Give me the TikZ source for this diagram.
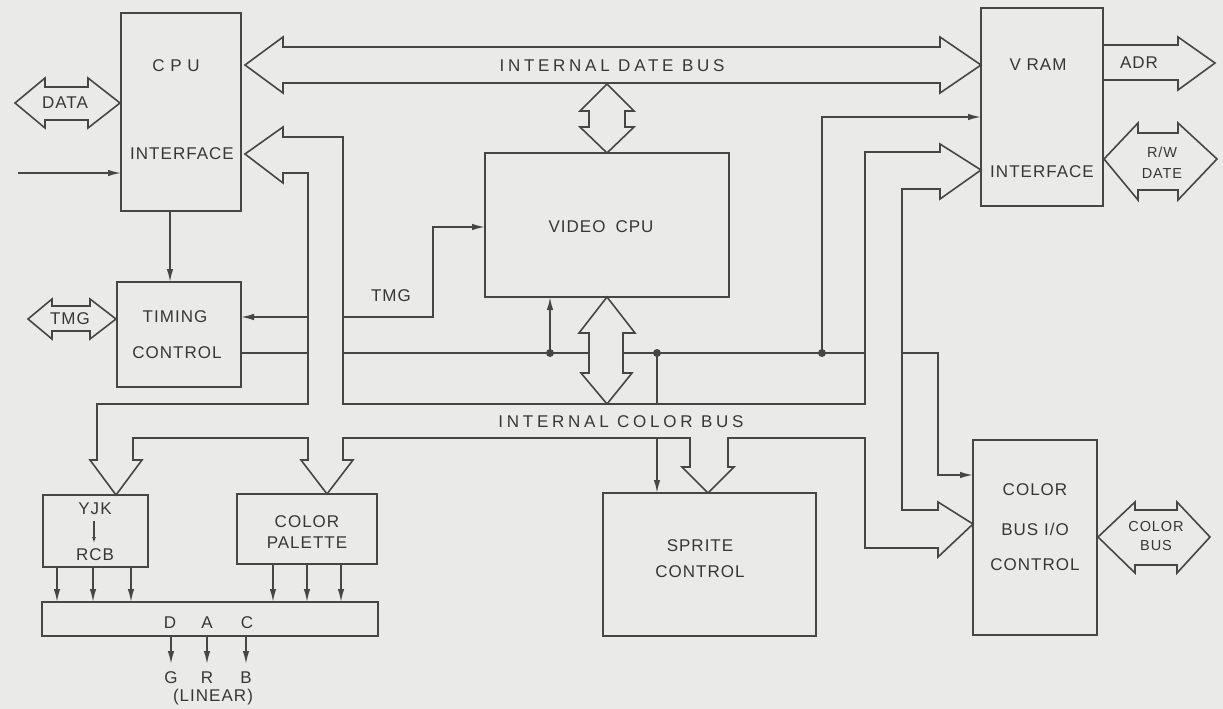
\documentclass[tikz,border=0pt]{standalone}
\usepackage{fontspec}
\setmainfont{Liberation Sans}[LetterSpace=6]
\newfontfamily\wide{Liberation Sans}[LetterSpace=22]
\usetikzlibrary{arrows.meta}
\definecolor{bg}{RGB}{234,234,232}
\definecolor{ink}{RGB}{70,70,70}
\definecolor{txt}{RGB}{55,55,55}
\begin{document}
\begin{tikzpicture}[x=1pt,y=-1pt,
  wire/.style={draw=ink,line width=1.6pt,line join=miter},
  arr/.style={wire,-{Latex[length=13pt,width=6.5pt]}},
  box/.style={draw=ink,line width=1.7pt,inner sep=0pt,outer sep=0pt},
  lbl/.style={text=txt,font=\fontsize{17}{19}\selectfont,inner sep=0pt},
  sm/.style={text=txt,font=\fontsize{14.5}{16}\selectfont,inner sep=0pt},
  buslbl/.style={text=txt,font=\wide\fontsize{17}{19}\selectfont,inner sep=0pt},
  dot/.style={circle,fill=ink,inner sep=0pt,minimum size=8pt},
]
\fill[bg] (0,0) rectangle (1223,709);
\useasboundingbox (0,0) rectangle (1223,709);

% ---------- boxes ----------
\node[box,minimum width=120pt,minimum height=198pt] (cpu)  at (181,112) {};
\node[box,minimum width=122pt,minimum height=198pt] (vram) at (1042,107) {};
\node[box,minimum width=244pt,minimum height=144pt] (vcpu) at (607,225) {};
\node[box,minimum width=124pt,minimum height=105pt] (tim)  at (179,334.5) {};
\node[box,minimum width=105pt,minimum height=72pt]  (yjk)  at (95.5,531) {};
\node[box,minimum width=140pt,minimum height=70pt]  (pal)  at (307,529) {};
\node[box,minimum width=336pt,minimum height=34pt]  (dac)  at (210,619) {};
\node[box,minimum width=213pt,minimum height=143pt] (spr)  at (709.5,564.5) {};
\node[box,minimum width=124pt,minimum height=195pt] (cbio) at (1035,537.5) {};

% ---------- box texts ----------
\node[lbl] (tcpu)  at (176,66)  {C P U};
\node[lbl] (tcpui) at (182,154) {INTERFACE};
\node[lbl] (tvr)   at (1038,65) {V RAM};
\node[lbl] (tvri)  at (1042,172) {INTERFACE};
\node[lbl] (tvc)   at (601,227) {VIDEO\hspace{10pt}CPU};
\node[lbl] (tti1)  at (175,317) {TIMING};
\node[lbl] (tti2)  at (177,353) {CONTROL};
\node[lbl] (tyj1)  at (95,509)  {YJK};
\node[lbl] (tyj2)  at (95,555)  {RCB};
\node[lbl] (tpa1)  at (307,522) {COLOR};
\node[lbl] (tpa2)  at (307,543) {PALETTE};
\node[lbl] (tdd)   at (170,623) {D};
\node[lbl] (tda)   at (207,623) {A};
\node[lbl] (tdc)   at (247,623) {C};
\node[lbl] (tsp1)  at (700,546) {SPRITE};
\node[lbl] (tsp2)  at (700,572) {CONTROL};
\node[lbl] (tcb1)  at (1035,490) {COLOR};
\node[lbl] (tcb2)  at (1035,529) {BUS I/O};
\node[lbl] (tcb3)  at (1035,565) {CONTROL};

% ---------- hollow bus network ----------
\draw[wire] (245,154) -- (283,127) -- (283,137) -- (343,137) -- (343,404)
  -- (865,404) -- (865,152) -- (940,152) -- (940,144) -- (981,170) -- (940,199)
  -- (940,189) -- (902,189) -- (902,510) -- (938,510) -- (938,502) -- (973,524)
  -- (938,557) -- (938,548) -- (865,548) -- (865,438) -- (728,438) -- (728,467)
  -- (734,467) -- (708,493) -- (682,467) -- (690,467) -- (690,438) -- (343,438)
  -- (343,460) -- (353,460) -- (327,494) -- (301,460) -- (308,460) -- (308,438)
  -- (133,438) -- (133,460) -- (142,460) -- (116,495) -- (90,460) -- (97,460)
  -- (97,404) -- (308,404) -- (308,173) -- (283,173) -- (283,183) -- cycle;
\node[buslbl] (tcbus) at (621,422) {INTERNAL COLOR BUS};

% internal date bus
\draw[wire] (245,65) -- (283,37) -- (283,47) -- (940,47) -- (940,37) -- (981,65)
  -- (940,93) -- (940,83) -- (283,83) -- (283,93) -- cycle;
\node[buslbl] (tdbus) at (612,66) {INTERNAL DATE BUS};

% date bus <-> video cpu
\draw[wire] (607,84) -- (634,111) -- (625,111) -- (625,127) -- (634,127) -- (607,153)
  -- (580,127) -- (589,127) -- (589,111) -- (580,111) -- cycle;

% video cpu <-> color bus
\draw[wire] (607,297) -- (635,333) -- (623,333) -- (623,373) -- (632,373) -- (607,404)
  -- (581,373) -- (589,373) -- (589,333) -- (579,333) -- cycle;

% external buses
\draw[wire] (15,103) -- (45,78) -- (45,87) -- (88,87) -- (88,78) -- (120,103)
  -- (88,128) -- (88,120) -- (45,120) -- (45,128) -- cycle;
\node[lbl] (tdata) at (65,103) {DATA};

\draw[wire] (28,319) -- (52,299) -- (52,306) -- (90,306) -- (90,299) -- (116,319)
  -- (90,339) -- (90,331) -- (52,331) -- (52,339) -- cycle;
\node[lbl] (ttmg1) at (70,319) {TMG};

\draw[wire] (1103,45) -- (1178,45) -- (1178,37) -- (1215,63) -- (1178,90) -- (1178,80) -- (1103,80);
\node[lbl] (tadr) at (1139,63) {ADR};

\draw[wire] (1104,159) -- (1138,123) -- (1138,133) -- (1178,133) -- (1178,123) -- (1217,159)
  -- (1178,200) -- (1178,190) -- (1138,190) -- (1138,200) -- cycle;
\node[sm] (trw1) at (1162,152) {R/W};
\node[sm] (trw2) at (1162,174) {DATE};

\draw[wire] (1098,537) -- (1135,502) -- (1135,510) -- (1177,510) -- (1177,502) -- (1210,537)
  -- (1177,573) -- (1177,565) -- (1135,565) -- (1135,573) -- cycle;
\node[sm] (tcol1) at (1156,527) {COLOR};
\node[sm] (tcol2) at (1156,546) {BUS};

% ---------- thin connectors ----------
\coordinate (in) at (18,173);
\draw[arr] (in) -- (in -| cpu.west);

\coordinate (c2t) at (170,0);
\draw[arr] (c2t |- cpu.south) -- (c2t |- tim.north);

\coordinate (tw1) at (308,317);
\draw[arr] (tw1) -- (tw1 -| tim.east);
\coordinate (tw2) at (308,353);
\draw[wire] (tim.east |- tw2) -- (tw2);

\coordinate (tg) at (343,317);
\coordinate (tgc) at (433,227);
\draw[arr] (tg) -| (tgc) -- (tgc -| vcpu.west);
\node[lbl] (ttmg2) at (391,296) {TMG};

\coordinate (r0) at (343,353);
\coordinate (r1) at (589,353);
\coordinate (r2) at (623,353);
\coordinate (r3) at (865,353);
\draw[wire] (r0) -- (r1);
\draw[wire] (r2) -- (r3);
\node[dot] (d1) at (550,353) {};
\node[dot] (d2) at (657,353) {};
\node[dot] (d3) at (822,353) {};
\draw[arr] (d1.center) -- (d1 |- vcpu.south);
\coordinate (cbt) at (657,404);
\draw[wire] (d2.center) -- (cbt);
\coordinate (cbb) at (657,438);
\draw[arr] (cbb) -- (cbb |- spr.north);
\coordinate (vr) at (822,117);
\draw[arr] (d3.center) -- (vr) -- (vr -| vram.west);
\coordinate (r4) at (902,353);
\coordinate (cb) at (938,475);
\draw[arr] (r4) -| (cb) -- (cb -| cbio.west);

% YJK internal arrow
\coordinate (ya) at (94,521);
\coordinate (yb) at (94,543);
\draw[draw=ink,line width=1.2pt,-{Latex[length=6pt,width=4pt]}] (ya) -- (yb);

% to DAC
\foreach \x [count=\i] in {57,93,131} {
  \coordinate (ay\i) at (\x,0);
  \draw[arr] (ay\i |- yjk.south) -- (ay\i |- dac.north);
}
\foreach \x [count=\i] in {273,307,341} {
  \coordinate (ap\i) at (\x,0);
  \draw[arr] (ap\i |- pal.south) -- (ap\i |- dac.north);
}
% DAC outputs
\foreach \x/\l in {171/G,207/R,246/B} {
  \coordinate (o\l) at (\x,664);
  \draw[arr] (o\l |- dac.south) -- (o\l);
  \node[lbl] (t\l) at (\x,678) {\l};
}
\node[lbl] (tlin) at (213,697) {(LINEAR)};
\end{tikzpicture}
\end{document}
